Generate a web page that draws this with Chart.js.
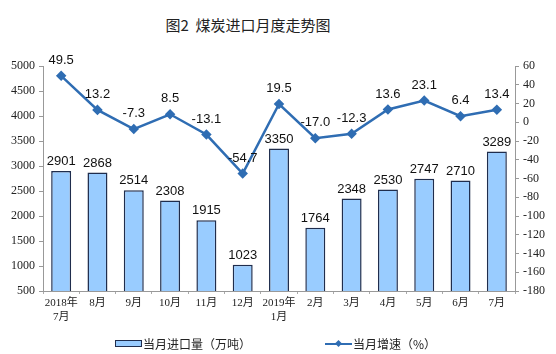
<!DOCTYPE html>
<html>
<head>
<meta charset="utf-8">
<script src="https://cdn.jsdelivr.net/npm/chart.js@4/dist/chart.umd.min.js"></script>
<style>
  body { margin: 0; background: #fff; }
  .wrap-chart { position: relative; width: 556px; height: 354px; font-family: 'Noto Sans CJK SC', sans-serif; color: #222; }
  .wrap-chart canvas { position: absolute; left: 0; top: 0; }
  .title { position: absolute; left: 0; width: 496px; top: 14px; text-align: center; font-size: 15px; }
  .legend { position: absolute; top: 333px; font-size: 12px; line-height: 18px; }
  .legend span { display: inline-block; vertical-align: middle; }
  .box { width: 25px; height: 5px; background: #99ccff; border: 1px solid #1f2d4d; margin-right: 1px; }
  .ln { width: 27px; height: 2px; background: #2f6db3; position: relative; margin-right: 1px; }
  .ln i { position: absolute; left: 11px; top: -2px; width: 5px; height: 5px; background: #2f6db3; transform: rotate(45deg); }
</style>
</head>
<body>
<div class="wrap-chart">
  <div class="title">图2&nbsp;&nbsp;煤炭进口月度走势图</div>
  <canvas width="556" height="354"></canvas>
  <div class="legend" style="left:115px"><span class="box"></span><span>当月进口量（万吨）</span></div>
  <div class="legend" style="left:325px"><span class="ln"><i></i></span><span>当月增速（%）</span></div>
</div>
<script>
const months = [['2018年', '7月'], '8月', '9月', '10月', '11月', '12月', ['2019年', '1月'], '2月', '3月', '4月', '5月', '6月', '7月'];
const imports = [2901, 2868, 2514, 2308, 1915, 1023, 3350, 1764, 2348, 2530, 2747, 2710, 3289];
const growth = [49.5, 13.2, -7.3, 8.5, -13.1, -54.7, 19.5, -17.0, -12.3, 13.6, 23.1, 6.4, 13.4];

// values above bars and points
const valueLabels = {
    id: 'valueLabels',
    afterDatasetsDraw(chart) {
        const c = chart.ctx;
        c.save();
        c.font = '13px "Liberation Sans", Arial, sans-serif';
        c.fillStyle = '#111';
        c.textAlign = 'center';
        c.textBaseline = 'bottom';
        chart.data.datasets.forEach((ds, i) => {
            const meta = chart.getDatasetMeta(i);
            meta.data.forEach((el, j) => {
                if (ds.type === 'bar') {
                    c.fillText(ds.data[j], el.x, el.y - 3);
                } else {
                    c.fillText(ds.data[j].toFixed(1), el.x, el.y - 9);
                }
            });
        });
        c.restore();
    }
};

const tickFont = { family: '"Liberation Serif", "Times New Roman", serif', size: 12 };

const ctx = document.querySelector('.wrap-chart canvas').getContext('2d');
const chart = new Chart(ctx, {
    data: {
        labels: months,
        datasets: [{
            type: 'line',
            label: '当月增速（%）',
            data: growth,
            yAxisID: 'y1',
            borderColor: '#2f6db3',
            backgroundColor: '#2f6db3',
            borderWidth: 2.5,
            pointStyle: 'rectRot',
            pointRadius: 3.5,
            tension: 0,
            order: 0
        }, {
            type: 'bar',
            label: '当月进口量（万吨）',
            data: imports,
            yAxisID: 'y',
            backgroundColor: '#99ccff',
            borderColor: '#1f2d4d',
            borderWidth: 1.5,
            categoryPercentage: 1,
            barPercentage: 0.55,
            order: 1
        }]
    },
    options: {
        responsive: false,
        animation: false,
        layout: { padding: { top: 66, bottom: 23, left: 0, right: 0 } },
        plugins: {
            legend: { display: false },
            tooltip: { enabled: false }
        },
        scales: {
            x: {
                offset: true,
                grid: { offset: true, drawOnChartArea: false, color: '#aaa', tickLength: 3 },
                border: { color: '#999' },
                ticks: { color: '#222', font: { family: '"Liberation Serif", "Noto Sans CJK SC", serif', size: 11 }, maxRotation: 0, autoSkip: false, padding: 3 },
                afterFit(s) { s.height = 40; }
            },
            y: {
                position: 'left',
                min: 500,
                max: 5000,
                ticks: { stepSize: 500, color: '#222', font: tickFont, padding: 4, callback: v => String(v) },
                grid: { drawOnChartArea: false, color: '#999', tickLength: 4 },
                border: { color: '#999' },
                afterFit(s) { s.width = 43; }
            },
            y1: {
                position: 'right',
                min: -180,
                max: 60,
                ticks: { stepSize: 20, color: '#222', font: tickFont, padding: 4, callback: v => String(v) },
                grid: { drawOnChartArea: false, color: '#999', tickLength: 4 },
                border: { color: '#999' },
                afterFit(s) { s.width = 41; }
            }
        }
    },
    plugins: [valueLabels]
});
</script>
</body>
</html>
